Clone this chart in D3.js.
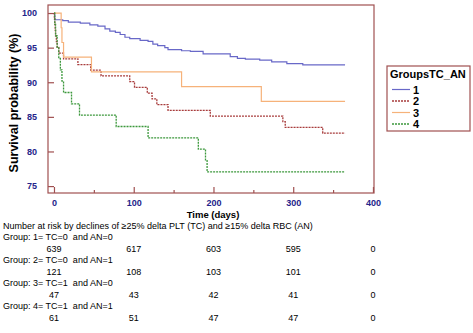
<!DOCTYPE html>
<html>
<head>
<meta charset="utf-8">
<script src="https://cdn.jsdelivr.net/npm/d3@7"></script>
<style>
  body { margin: 0; background: #fff; }
  svg { display: block; font-family: "Liberation Sans", Arial, sans-serif; }
</style>
</head>
<body>
<div id="chart"></div>
<script>
// Kaplan-Meier steps: [time (days), survival %]
const group1 = [[0,100],[1,99.03],[11,98.9],[18,98.7],[33,98.55],[45,98.3],[55,98.1],[64,97.7],[70,97.4],
  [77,97.2],[83,96.9],[89,96.5],[95,96.3],[108,96.05],[118,95.9],[124,95.5],[130,95.3],[139,95.0],
  [143,94.7],[160,94.55],[171,94.45],[187,94.1],[221,93.7],[230,93.45],[240,93.35],[258,93.2],
  [273,92.95],[292,92.7],[312,92.5],[365,92.5]];
const group2 = [[0,100],[0.5,99.17],[1,98.35],[1.5,97.52],[2,96.69],[3,95.87],[4,95.04],[6,94.21],
  [12,93.39],[30,92.56],[46,91.74],[59,90.91],[95,90.08],[101,89.26],[117,88.43],[123,87.6],
  [129,86.78],[143,85.95],[196,85.12],[287,84.3],[290,83.47],[337,82.64],[365,82.64]];
const group3 = [[0,100],[9,97.87],[10,95.74],[12,93.62],[47,91.49],[160,89.36],[260,87.23],[365,87.23]];
const group4 = [[0,100],[1,98.36],[2,96.72],[4,95.08],[6,93.44],[8,91.8],[10,90.16],[12,88.52],
  [22,86.89],[32,85.25],[78,83.61],[118,81.97],[181,80.33],[190,78.69],[192,77.05],[365,77.05]];

const groupNames = ['1', '2', '3', '4'];
const xTicks = [0, 100, 200, 300, 400];
const xMinorTicks = [50, 150, 250, 350];
const yTicks = [75, 80, 85, 90, 95, 100];

const riskTitle = 'Number at risk by declines of \u226525% delta PLT (TC) and \u226515% delta RBC (AN)';
const riskGroups = ['Group: 1= TC=0  and AN=0', 'Group: 2= TC=0  and AN=1',
  'Group: 3= TC=1  and AN=0', 'Group: 4= TC=1  and AN=1'];
const riskTimes = [0, 100, 200, 300, 400];
const riskCounts = [[639, 617, 603, 595, 0], [121, 108, 103, 101, 0],
  [47, 43, 42, 41, 0], [61, 51, 47, 47, 0]];

const W = 473, H = 333;
const frame = { left: 48, top: 5, right: 374, bottom: 193 };
const frameColor = '#a05050';
const labelColor = '#24248a';

const svg = d3.select('#chart').append('svg')
  .attr('width', W)
  .attr('height', H);

const x = d3.scaleLinear().domain([-7.5, 401.3]).range([frame.left, frame.right]);
const y = d3.scaleLinear().domain([74, 101.16]).range([frame.bottom, frame.top]);

const styles = [
  { color: '#6868c8', dash: null, width: 1.2 },
  { color: '#a83c3c', dash: '2,1', width: 1.3 },
  { color: '#f6b27a', dash: null, width: 1.2 },
  { color: '#3c983c', dash: '2,1', width: 1.3 }
];

// frame
svg.append('rect')
  .attr('x', frame.left)
  .attr('y', frame.top)
  .attr('width', frame.right - frame.left)
  .attr('height', frame.bottom - frame.top)
  .attr('fill', 'none')
  .attr('stroke', frameColor)
  .attr('stroke-width', 1.2);

// X axis, ticks pointing inward
const xAxis = svg.append('g')
  .attr('transform', `translate(0,${frame.bottom})`)
  .call(d3.axisBottom(x).tickValues(xTicks).tickSize(-6).tickPadding(7));
xAxis.select('.domain').remove();
xAxis.selectAll('line').attr('stroke', frameColor).attr('stroke-width', 1.2);
xAxis.selectAll('text')
  .attr('fill', labelColor)
  .style('font-size', '9px')
  .style('font-weight', 'bold');

const xMinor = svg.append('g')
  .attr('transform', `translate(0,${frame.bottom})`)
  .call(d3.axisBottom(x).tickValues(xMinorTicks).tickSize(-3).tickFormat(''));
xMinor.select('.domain').remove();
xMinor.selectAll('line').attr('stroke', frameColor).attr('stroke-width', 1.2);

// Y axis, ticks pointing inward
const yAxis = svg.append('g')
  .attr('transform', `translate(${frame.left},0)`)
  .call(d3.axisLeft(y).tickValues(yTicks).tickSize(-6).tickPadding(11));
yAxis.select('.domain').remove();
yAxis.selectAll('line').attr('stroke', frameColor).attr('stroke-width', 1.2);
yAxis.selectAll('text')
  .attr('fill', labelColor)
  .style('font-size', '9px')
  .style('font-weight', 'bold');

// axis titles
svg.append('text')
  .attr('transform', `translate(18,${(frame.top + frame.bottom) / 2 + 4}) rotate(-90)`)
  .attr('text-anchor', 'middle')
  .style('font-size', '12.5px')
  .style('font-weight', 'bold')
  .text('Survival probability (%)');

svg.append('text')
  .attr('x', 213)
  .attr('y', 218)
  .attr('text-anchor', 'middle')
  .style('font-size', '9.5px')
  .style('font-weight', 'bold')
  .text('Time (days)');

// survival curves
const line = d3.line()
  .x(d => x(d[0]))
  .y(d => y(d[1]))
  .curve(d3.curveStepAfter);

[group1, group2, group3, group4].forEach((g, i) => {
  svg.append('path')
    .datum(g)
    .attr('d', line)
    .attr('fill', 'none')
    .attr('stroke', styles[i].color)
    .attr('stroke-width', styles[i].width)
    .attr('stroke-dasharray', styles[i].dash);
});

// legend
const legend = svg.append('g').attr('transform', 'translate(387,66)');
legend.append('rect')
  .attr('width', 83)
  .attr('height', 65)
  .attr('fill', '#fff')
  .attr('stroke', frameColor)
  .attr('stroke-width', 1.2);
legend.append('text')
  .attr('x', 3)
  .attr('y', 12)
  .style('font-size', '11px')
  .style('font-weight', 'bold')
  .text('GroupsTC_AN');
groupNames.forEach((name, i) => {
  const ly = 23.5 + i * 11.5;
  legend.append('line')
    .attr('x1', 5).attr('x2', 23)
    .attr('y1', ly).attr('y2', ly)
    .attr('stroke', styles[i].color)
    .attr('stroke-width', styles[i].width)
    .attr('stroke-dasharray', styles[i].dash);
  legend.append('text')
    .attr('x', 26)
    .attr('y', ly + 4)
    .style('font-size', '11px')
    .style('font-weight', 'bold')
    .text(name);
});

// number at risk table
const rowH = 11.5;
const tableTop = 228.5;
svg.append('text')
  .attr('x', 3)
  .attr('y', tableTop)
  .style('font-size', '9px')
  .style('white-space', 'pre')
  .text(riskTitle);

riskGroups.forEach((label, i) => {
  svg.append('text')
    .attr('x', 3)
    .attr('y', tableTop + rowH * (1 + 2 * i))
    .style('font-size', '9px')
    .style('white-space', 'pre')
    .text(label);
  svg.append('g')
    .selectAll('text')
    .data(riskCounts[i])
    .join('text')
    .attr('x', (d, j) => x(riskTimes[j]))
    .attr('y', tableTop + rowH * (2 + 2 * i))
    .attr('text-anchor', 'middle')
    .style('font-size', '9px')
    .text(d => d);
});
</script>
</body>
</html>
